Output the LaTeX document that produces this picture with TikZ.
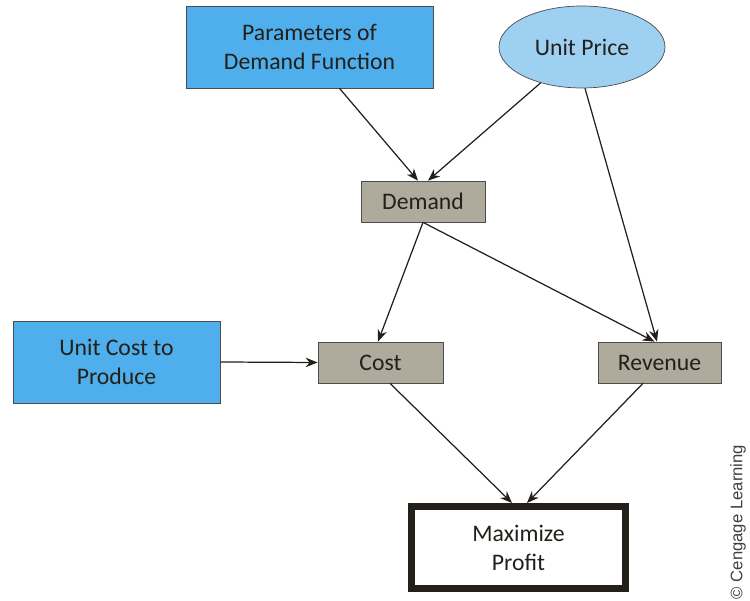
\documentclass[tikz,border=0pt]{standalone}
\usepackage{fontspec}
\setmainfont{Carlito}
\newfontfamily\creditfont{Liberation Sans}
\usepackage{xcolor}
\usetikzlibrary{positioning, arrows.meta, shapes.geometric}

\definecolor{inputblue}{RGB}{78,175,236}
\definecolor{priceblue}{RGB}{158,208,242}
\definecolor{calcgray}{RGB}{174,171,156}
\definecolor{inkdark}{RGB}{35,31,26}

\begin{document}
\begin{tikzpicture}[
    >={Stealth[length=2.4mm,width=1.9mm]},
    font=\fontsize{13.5}{16.5}\selectfont,
    inbox/.style={draw=black!70, rectangle, fill=inputblue, minimum height=1.64cm, align=center, text=inkdark},
    calcbox/.style={draw=black!70, rectangle, fill=calcgray, minimum height=0.82cm, align=center, text=inkdark},
    arrow/.style={->, draw=inkdark, line width=0.7pt}
]
\useasboundingbox (0,0) rectangle (15,-12.02);

% Nodes
\node[inbox, minimum width=4.94cm] (params) at (6.19,-0.94) {Parameters of\\Demand Function};
\node[ellipse, draw=black!70, fill=priceblue, minimum width=3.32cm, minimum height=1.64cm, inner sep=0pt, text=inkdark] (price) at (11.64,-0.94) {Unit Price};
\node[calcbox, minimum width=2.48cm] (demand) at (8.46,-4.03) {Demand};
\node[inbox, minimum width=4.14cm] (unitcost) at (2.33,-7.24) {Unit Cost to\\Produce};
\node[calcbox, minimum width=2.5cm] (cost) at (7.61,-7.25) {Cost};
\node[calcbox, minimum width=2.46cm] (revenue) at (13.19,-7.25) {Revenue};
\node[draw=inkdark, line width=0.14cm, fill=white, minimum width=4.28cm, minimum height=1.64cm, align=center, text=inkdark] (profit) at (10.37,-10.95) {Maximize\\Profit};
\node[rotate=90, font=\creditfont\fontsize{9.5}{11}\selectfont, text=black!75] (credit) at (14.76,-10.44) {\textcopyright\ Cengage Learning};

% Edges
\draw[arrow] ([xshift=0.6cm]params.south) -- ([xshift=-0.1cm]demand.north);
\draw[arrow] (price) -- ([xshift=0.1cm]demand.north);
\draw[arrow] ([xshift=0.06cm]price.south) -- ([xshift=-0.05cm]revenue.north);
\draw[arrow] (demand.south) -- ([xshift=-0.05cm]cost.north);
\draw[arrow] (demand.south) -- ([xshift=-0.1cm]revenue.north);
\draw[arrow] (unitcost.east) -- (cost.west);
\draw[arrow] ([xshift=0.19cm]cost.south) -- ([xshift=-0.13cm]profit.north);
\draw[arrow] ([xshift=-0.33cm]revenue.south) -- ([xshift=0.17cm]profit.north);
\end{tikzpicture}
\end{document}
